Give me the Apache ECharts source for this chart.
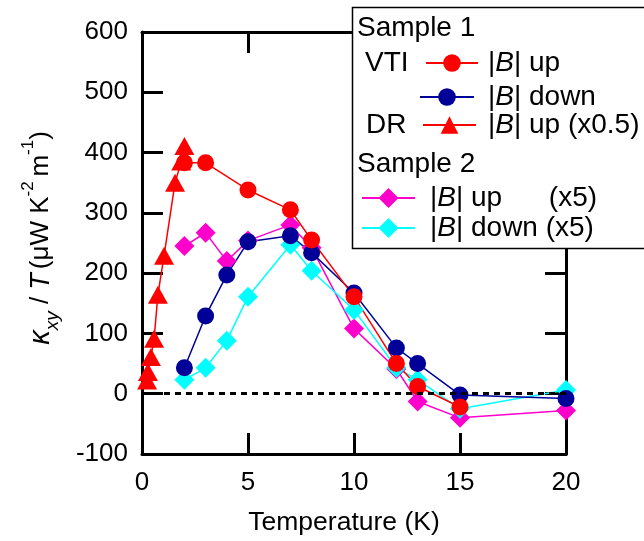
<!DOCTYPE html>
<html>
<head>
<meta charset="utf-8">
<script src="https://cdn.jsdelivr.net/npm/echarts@6/dist/echarts.min.js"></script>
<style>html,body{margin:0;padding:0;background:#fff;}#c{width:644px;height:541px;}</style>
</head>
<body>
<div id="c"></div>
<script>
// ---- data (Temperature K, kappa_xy/T) ----
var tVtiUp = [2, 3, 5, 7, 8, 10, 12, 13, 15];
var kVtiUp = [383, 383, 338, 305, 255, 161, 50, 12, -22];

var tVtiDown = [2, 3, 4, 5, 7, 8, 10, 12, 13, 15, 20];
var kVtiDown = [43, 129, 197, 252, 262, 234, 167, 76, 50, -2, -8];

var tDrUp = [0.24, 0.28, 0.42, 0.57, 0.75, 1.04, 1.56, 1.85, 2.0];
var kDrUp = [22, 36, 61, 91, 164, 229, 350, 385, 411];

var tS2Up = [2, 3, 4, 5, 7, 8, 10, 12, 13, 15, 20];
var kS2Up = [245, 267, 220, 254, 280, 242, 108, 41, -13, -40, -28];

var tS2Down = [2, 3, 4, 5, 7, 8, 10, 12, 13, 15, 20];
var kS2Down = [23, 43, 88, 161, 247, 204, 139, 43, 23, -25, 6];

var xTicks = [0, 5, 10, 15, 20];
var yTicks = [-100, 0, 100, 200, 300, 400, 500, 600];

function pairs(t, k) { return t.map(function (v, i) { return [v, k[i]]; }); }

var FONT = '"Liberation Sans", Arial, sans-serif';
var LF = 28; // legend font size
var chart = echarts.init(document.getElementById('c'), null, { renderer: 'canvas' });

function mkSeries(name, t, k, color, symbol, size) {
  return {
    name: name, type: 'line', data: pairs(t, k),
    symbol: symbol, symbolSize: size,
    lineStyle: { color: color, width: 1.5 },
    itemStyle: { color: color },
    emphasis: { disabled: true },
    z: 2
  };
}

var s2up = mkSeries('s2up', tS2Up, kS2Up, '#FF00CC', 'diamond', 20);
s2up.markLine = {
  silent: true, symbol: 'none', label: { show: false },
  lineStyle: { color: '#000', type: [6, 5], width: 3 },
  data: [{ yAxis: 0 }]
};

var series = [
  s2up,
  mkSeries('s2down', tS2Down, kS2Down, '#00FFFF', 'diamond', 20),
  mkSeries('vtidown', tVtiDown, kVtiDown, '#000099', 'circle', 17),
  mkSeries('vtiup', tVtiUp, kVtiUp, '#FF0000', 'circle', 17),
  mkSeries('drup', tDrUp, kDrUp, '#FF0000', 'triangle', [20, 18])
];

function mkLegend(name, label, left, cy, iw, ih, pad) {
  return {
    data: [name], left: left, top: cy - LF / 2, padding: 0, itemWidth: iw, itemHeight: ih,
    selectedMode: false, z: 200,
    textStyle: {
      fontSize: LF, fontFamily: FONT, color: '#000', lineHeight: LF, padding: [0, 0, 0, pad],
      rich: { i: { fontStyle: 'italic', fontSize: LF, fontFamily: FONT, color: '#000' } }
    },
    formatter: function () { return label; }
  };
}

var axisLine = { show: true, onZero: false, lineStyle: { color: '#000', width: 3 } };
var axisTick = { show: true, inside: true, length: 21, lineStyle: { color: '#000', width: 3 } };

var option = {
  animation: false,
  backgroundColor: '#fff',
  textStyle: { fontFamily: FONT },
  grid: { left: 142, right: 78, top: 32, bottom: 87, containLabel: false },
  xAxis: [
    {
      type: 'value', position: 'bottom', min: xTicks[0], max: xTicks[xTicks.length - 1], interval: 5,
      axisLine: axisLine, axisTick: axisTick, splitLine: { show: false },
      axisLabel: { fontSize: 26, color: '#000', fontFamily: FONT, margin: 16 },
      name: 'Temperature (K)', nameLocation: 'middle', nameGap: 55,
      nameTextStyle: { fontSize: 26.5, color: '#000', fontFamily: FONT, padding: [0, 20, 0, 0] }
    },
    {
      type: 'value', position: 'top', min: xTicks[0], max: xTicks[xTicks.length - 1], interval: 5,
      axisLine: axisLine, axisTick: axisTick, splitLine: { show: false },
      axisLabel: { show: false }
    }
  ],
  yAxis: [
    {
      type: 'value', position: 'left', min: yTicks[0], max: yTicks[yTicks.length - 1], interval: 100,
      axisLine: axisLine, axisTick: axisTick, splitLine: { show: false },
      axisLabel: { fontSize: 26, color: '#000', fontFamily: FONT, margin: 14 },
      name: '{k|κ}{s|xy}{n| / }{t|T}{n|(μW K}{p|-2 }{n|m}{p|-1}{n|)}',
      nameLocation: 'middle', nameGap: 80, nameRotate: 90,
      nameTextStyle: {
        color: '#000', fontFamily: FONT, padding: [0, 0, 0, 10],
        rich: {
          k: { fontSize: 29, fontStyle: 'italic', fontFamily: FONT, color: '#000', lineHeight: 42 },
          s: { fontSize: 19, fontStyle: 'italic', fontFamily: FONT, color: '#000', verticalAlign: 'bottom', lineHeight: 22 },
          n: { fontSize: 26, fontFamily: FONT, color: '#000', lineHeight: 42 },
          t: { fontSize: 27, fontStyle: 'italic', fontFamily: FONT, color: '#000', lineHeight: 42, padding: [0, 4, 0, 0] },
          p: { fontSize: 17, fontFamily: FONT, color: '#000', verticalAlign: 'top', lineHeight: 22 }
        }
      }
    },
    {
      type: 'value', position: 'right', min: yTicks[0], max: yTicks[yTicks.length - 1], interval: 100,
      axisLine: axisLine, axisTick: axisTick, splitLine: { show: false },
      axisLabel: { show: false }
    }
  ],
  legend: [
    mkLegend('vtiup', '|{i|B}| up', 425, 63, 52, 22, 5),
    mkLegend('vtidown', '|{i|B}| down', 419, 97, 54, 22, 9),
    mkLegend('drup', '|{i|B}| up (x0.5)', 422, 125, 53, 22, 7),
    mkLegend('s2up', '|{i|B}| up      (x5)', 361, 198, 53, 25, 10),
    mkLegend('s2down', '|{i|B}| down (x5)', 361, 228, 53, 25, 10)
  ],
  graphic: [
    { type: 'rect', z: 100, shape: { x: 352.5, y: 7.5, width: 320, height: 241 },
      style: { fill: '#fff', stroke: '#000', lineWidth: 1.5 } },
    { type: 'text', z: 101, x: 357, y: 28, style: { text: 'Sample 1', font: LF + 'px ' + FONT, fill: '#000', verticalAlign: 'middle' } },
    { type: 'text', z: 101, x: 365, y: 63, style: { text: 'VTI', font: LF + 'px ' + FONT, fill: '#000', verticalAlign: 'middle' } },
    { type: 'text', z: 101, x: 366, y: 125, style: { text: 'DR', font: LF + 'px ' + FONT, fill: '#000', verticalAlign: 'middle' } },
    { type: 'text', z: 101, x: 357, y: 164, style: { text: 'Sample 2', font: LF + 'px ' + FONT, fill: '#000', verticalAlign: 'middle' } }
  ],
  series: series
};
chart.setOption(option);
</script>
</body>
</html>
